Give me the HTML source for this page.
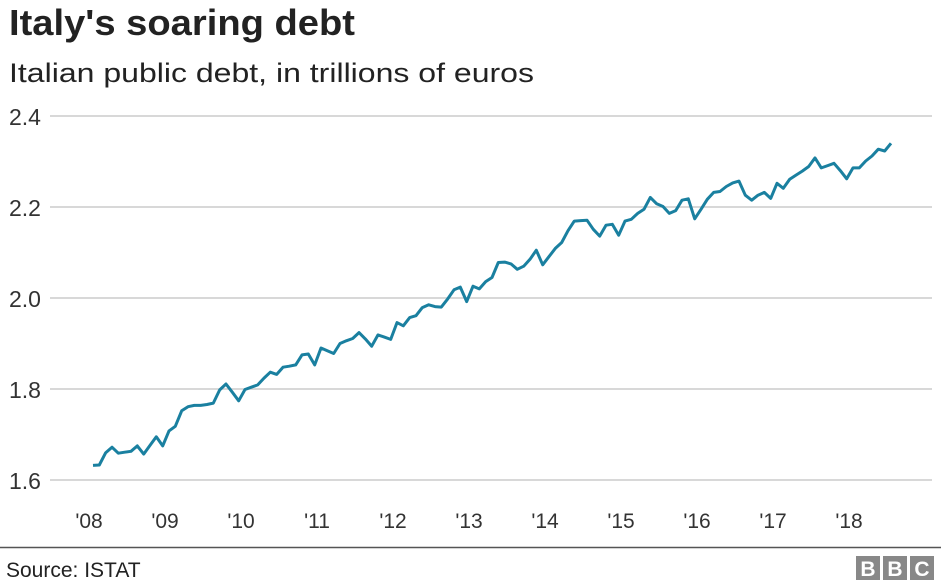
<!DOCTYPE html>
<html><head><meta charset="utf-8"><style>
html,body{margin:0;padding:0;background:#fff;}
svg{display:block;font-family:"Liberation Sans",Arial,sans-serif;}
</style></head><body>
<svg id="chart" width="941" height="586" viewBox="0 0 941 586">
<text x="9" y="35" font-size="36" font-weight="bold" fill="#222" textLength="346" lengthAdjust="spacingAndGlyphs">Italy's soaring debt</text>
<text x="9" y="82" font-size="27" fill="#222" textLength="525" lengthAdjust="spacingAndGlyphs">Italian public debt, in trillions of euros</text>
<g id="grid"></g>
<g id="xlabels"></g>
<path id="line" fill="none" stroke="#1a80a0" stroke-width="3" stroke-linejoin="round"></path>
<line x1="0" y1="547.5" x2="941" y2="547.5" stroke="#555" stroke-width="1.5"/>
<text x="6" y="577" font-size="21" fill="#222">Source: ISTAT</text>
<g>
<rect x="856" y="556" width="24" height="24" fill="#888"/>
<rect x="883" y="556" width="24" height="24" fill="#888"/>
<rect x="910" y="556" width="24" height="24" fill="#888"/>
<text x="868" y="576" font-size="21" font-weight="bold" fill="#fff" text-anchor="middle">B</text>
<text x="895" y="576" font-size="21" font-weight="bold" fill="#fff" text-anchor="middle">B</text>
<text x="922" y="576" font-size="21" font-weight="bold" fill="#fff" text-anchor="middle">C</text>
</g>
</svg>
<script>
const yTicks = [1.6, 1.8, 2.0, 2.2, 2.4];
const yTickLabels = ["1.6", "1.8", "2.0", "2.2", "2.4"];
const xTickLabels = ["'08","'09","'10","'11","'12","'13","'14","'15","'16","'17","'18"];
const startYear = 2008;
const debt = [1.632,1.633,1.660,1.672,1.659,1.661,1.663,1.675,1.657,1.676,1.695,1.675,
1.708,1.718,1.752,1.761,1.764,1.764,1.766,1.769,1.798,1.811,1.793,1.774,
1.799,1.804,1.809,1.824,1.837,1.832,1.848,1.850,1.853,1.875,1.877,1.853,
1.890,1.884,1.878,1.900,1.906,1.911,1.924,1.910,1.894,1.919,1.914,1.909,
1.946,1.939,1.957,1.961,1.979,1.985,1.981,1.980,1.998,2.018,2.024,1.992,
2.026,2.020,2.036,2.045,2.078,2.079,2.075,2.063,2.070,2.085,2.105,2.073,
2.091,2.109,2.122,2.148,2.169,2.170,2.171,2.151,2.136,2.160,2.162,2.138,
2.169,2.173,2.186,2.195,2.221,2.207,2.201,2.186,2.192,2.215,2.218,2.174,
2.195,2.217,2.232,2.234,2.245,2.253,2.257,2.226,2.215,2.226,2.232,2.219,
2.252,2.241,2.261,2.270,2.279,2.289,2.308,2.286,2.291,2.296,2.280,2.262,
2.286,2.286,2.301,2.312,2.327,2.323,2.340];
const NS="http://www.w3.org/2000/svg";
function yScale(v){ return 116 + (2.4 - v) / 0.2 * 91; }
function xScale(monthIndex){ return 93 + monthIndex * (76/12); }
const grid=document.getElementById('grid');
yTicks.forEach((t,i)=>{
  const l=document.createElementNS(NS,'line');
  l.setAttribute('x1',50);l.setAttribute('x2',932);
  l.setAttribute('y1',yScale(t));l.setAttribute('y2',yScale(t));
  l.setAttribute('stroke','#cccccc');l.setAttribute('stroke-width',1.5);
  
  
  grid.appendChild(l);
  const tx=document.createElementNS(NS,'text');
  tx.setAttribute('x',9);tx.setAttribute('y',yScale(t)+9);
  tx.setAttribute('font-size',23);tx.setAttribute('fill','#333');
  tx.textContent=yTickLabels[i];
  
  
  grid.appendChild(tx);
});
const xl=document.getElementById('xlabels');
xTickLabels.forEach((s,i)=>{
  const tx=document.createElementNS(NS,'text');
  tx.setAttribute('x',xScale(i*12)-4);tx.setAttribute('y',528);
  tx.setAttribute('font-size',21);tx.setAttribute('fill','#333');
  tx.setAttribute('text-anchor','middle');
  tx.textContent=s;
  
  
  xl.appendChild(tx);
});
document.getElementById('line').setAttribute('d',
  debt.map((v,i)=>(i?'L':'M')+xScale(i).toFixed(1)+','+yScale(v).toFixed(1)).join(''));
</script>
</body></html>
